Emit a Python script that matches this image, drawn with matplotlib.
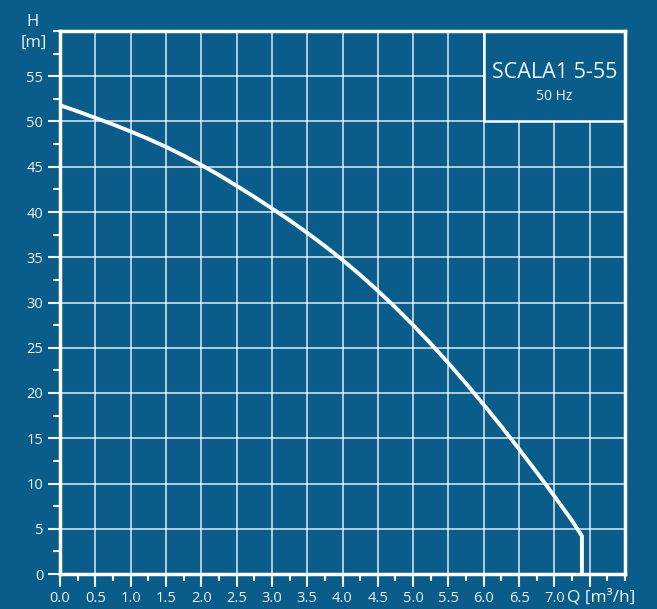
import matplotlib.pyplot as plt
from matplotlib.patches import Rectangle
from matplotlib.ticker import MultipleLocator

# pump curve SCALA1 5-55
q = [0.0, 0.25, 0.5, 0.75, 1.0, 1.25, 1.5, 1.75, 2.0, 2.25, 2.5, 2.75, 3.0, 3.25,
     3.5, 3.75, 4.0, 4.25, 4.5, 4.75, 5.0, 5.25, 5.5, 5.75, 6.0, 6.25, 6.5, 6.75,
     7.0, 7.25, 7.39, 7.39]
h = [51.8, 51.12, 50.4, 49.68, 48.9, 48.08, 47.2, 46.23, 45.2, 44.09, 42.9, 41.68, 40.4, 39.09,
     37.7, 36.24, 34.7, 33.05, 31.3, 29.45, 27.5, 25.45, 23.3, 21.05, 18.7, 16.3, 13.8, 11.24,
     8.6, 5.9, 4.2, 0.0]

xticks = [0.0, 0.5, 1.0, 1.5, 2.0, 2.5, 3.0, 3.5, 4.0, 4.5, 5.0, 5.5, 6.0, 6.5, 7.0, 7.5]
xlabels = ['0.0', '0.5', '1.0', '1.5', '2.0', '2.5', '3.0', '3.5', '4.0', '4.5',
           '5.0', '5.5', '6.0', '6.5', '7.0', '']
yticks = [0, 5, 10, 15, 20, 25, 30, 35, 40, 45, 50, 55]

bg = '#0a5d8a'
fg = '#eef4f8'
plt.rcParams['font.family'] = ['Open Sans', 'DejaVu Sans']

fig = plt.figure(figsize=(6.57, 6.09), dpi=100, facecolor=bg)
ax = fig.add_axes([60/657, 35/609, 565/657, 543/609], facecolor=bg)

ax.set_xlim(0, 8)
ax.set_ylim(0, 60)
ax.set_xticks(xticks)
ax.set_xticklabels(xlabels)
ax.set_yticks(yticks)
ax.xaxis.set_minor_locator(MultipleLocator(0.25))
ax.yaxis.set_minor_locator(MultipleLocator(2.5))
ax.tick_params(which='major', colors=fg, length=9, width=1.5, labelsize=10.5, pad=3)
ax.tick_params(which='minor', colors=fg, length=5, width=1.5)
for s in ax.spines.values():
    s.set_color('white')
    s.set_linewidth(2.5)

ax.grid(True, which='major', color='white', alpha=0.8, lw=1.2)
ax.set_axisbelow(True)

ax.plot(q, h, color='white', lw=2.8, solid_joinstyle='round', zorder=3)

# title box in the upper right corner
ax.add_patch(Rectangle((6.0, 50.0), 2.0, 10.0, facecolor=bg, edgecolor='white', lw=1.8, zorder=2.5))
ax.text(7.0, 55.4, 'SCALA1 5-55', color=fg, fontsize=15.5, ha='center', va='center', zorder=4)
ax.text(7.0, 52.8, '50 Hz', color=fg, fontsize=10, ha='center', va='center', zorder=4)

fig.text(32/657, 1 - 22/609, 'H', color=fg, fontsize=12, ha='center', va='center')
fig.text(34/657, 1 - 43/609, '[m]', color=fg, fontsize=12, ha='center', va='center')
fig.text(567/657, 1 - 597/609, 'Q [m³/h]', color=fg, fontsize=12.5, ha='left', va='center')

fig.savefig('out.png', dpi=100, facecolor=bg)
